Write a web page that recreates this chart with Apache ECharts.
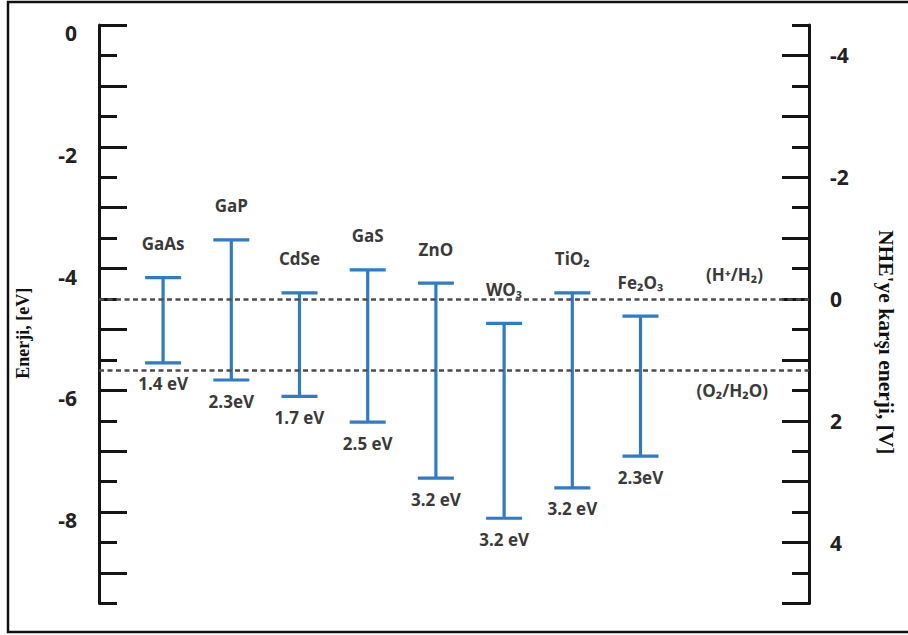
<!DOCTYPE html>
<html>
<head>
<meta charset="utf-8">
<script src="https://cdn.jsdelivr.net/npm/echarts@6/dist/echarts.min.js"></script>
<style>
  html, body { margin: 0; padding: 0; background: #ffffff; }
  #chart { width: 908px; height: 635px; }
</style>
</head>
<body>
<div id="chart"></div>
<script>
// Semiconductor band edges (energy vs. vacuum, eV)
const materials = ['GaAs', 'GaP', 'CdSe', 'GaS', 'ZnO', 'WO₃', 'TiO₂', 'Fe₂O₃'];
const conductionBand = [-4.15, -3.53, -4.40, -4.02, -4.24, -4.90, -4.40, -4.78];
const bandGap = [1.4, 2.3, 1.7, 2.5, 3.2, 3.2, 3.2, 2.3];
const gapUnit = [' eV', 'eV', ' eV', ' eV', ' eV', ' eV', ' eV', 'eV'];

// Water redox levels (eV) and their labels
const redoxLevels = [-4.5, -5.67];
const redoxLabels = ['(H⁺/H₂)', '(O₂/H₂O)'];

// Axis ranges and labelled ticks
const energyRange = [-9.5, 0];
const energyTicks = [0, -2, -4, -6, -8];
const nheTicks = [-4, -2, 0, 2, 4];
const NHE_OFFSET = 4.5; // E(NHE) = -(E(vacuum) + 4.5)

// ---- layout ----
const W = 908, H = 635;
const PLOT_TOP = 25, PLOT_BOTTOM = 603.5;
const AXIS_LEFT = 99, AXIS_RIGHT = 809;
const BAND_LEFT = 129, BAND_STEP = 68.2;
const pxPerUnit = (PLOT_BOTTOM - PLOT_TOP) / (energyRange[1] - energyRange[0]);

const nheRange = [-(energyRange[1] + NHE_OFFSET), -(energyRange[0] + NHE_OFFSET)];
// grids that carry the long (whole-number) ticks
const longLeftBottom = PLOT_BOTTOM - (Math.ceil(energyRange[0]) - energyRange[0]) * pxPerUnit;
const longRightTop = PLOT_TOP + (Math.ceil(nheRange[0]) - nheRange[0]) * pxPerUnit;

const INK = '#151515';
const BLUE = '#2f7bc6';
const TEXT = '#3a3a3a';
const near = (v, list) => list.some(t => Math.abs(t - v) < 1e-6);

const axisLineStyle = { show: true, onZero: false, lineStyle: { color: INK, width: 3 } };
const hiddenLine = { show: false, onZero: false };
const tickStyle = { color: INK, width: 3 };

const bandData = materials.map((m, i) => [i, conductionBand[i], +(conductionBand[i] - bandGap[i]).toFixed(3)]);

const option = {
  backgroundColor: '#ffffff',
  animation: false,
  grid: [
    { left: AXIS_LEFT, right: W - AXIS_RIGHT, top: PLOT_TOP, bottom: H - PLOT_BOTTOM },
    { left: AXIS_LEFT, right: W - AXIS_RIGHT, top: PLOT_TOP, bottom: H - longLeftBottom },
    { left: AXIS_LEFT, right: W - AXIS_RIGHT, top: longRightTop, bottom: H - PLOT_BOTTOM },
    { left: BAND_LEFT, width: BAND_STEP * materials.length, top: PLOT_TOP, bottom: H - PLOT_BOTTOM }
  ],
  xAxis: [
    { gridIndex: 0, type: 'category', data: ['a'], show: false, axisLine: hiddenLine },
    { gridIndex: 1, type: 'category', data: ['a'], show: false, axisLine: hiddenLine },
    { gridIndex: 2, type: 'category', data: ['a'], show: false, axisLine: hiddenLine },
    { gridIndex: 3, type: 'category', data: materials, show: false, boundaryGap: true, axisLine: hiddenLine }
  ],
  yAxis: [
    {
      gridIndex: 0, type: 'value', position: 'left',
      min: energyRange[0], max: energyRange[1], interval: 0.5,
      axisLine: axisLineStyle,
      axisTick: { show: true, inside: true, length: 18, lineStyle: tickStyle },
      splitLine: { show: false },
      axisLabel: {
        margin: 22, color: '#222', fontFamily: 'Open Sans', fontWeight: 'bold', fontSize: 21,
        verticalAlign: 'top', lineHeight: 16,
        formatter: v => near(v, energyTicks) ? String(Math.round(v)) : ''
      },
      name: 'Enerji, [eV]', nameLocation: 'middle', nameRotate: 90, nameGap: 67,
      nameTextStyle: { fontFamily: 'Liberation Serif', fontWeight: 'bold', fontSize: 18, color: '#111', padding: [0, 38, 0, 0] }
    },
    {
      gridIndex: 0, type: 'value', position: 'right', inverse: true,
      min: nheRange[0], max: nheRange[1], interval: 0.5,
      axisLine: axisLineStyle,
      axisTick: { show: true, inside: true, length: 17, lineStyle: tickStyle },
      splitLine: { show: false },
      axisLabel: {
        margin: 21, color: '#222', fontFamily: 'Open Sans', fontWeight: 'bold', fontSize: 21,
        formatter: v => near(v, nheTicks) ? String(Math.round(v)) : ''
      },
      name: "NHE'ye karşı enerji, [V]", nameLocation: 'middle', nameRotate: -90, nameGap: 66,
      nameTextStyle: { fontFamily: 'Liberation Serif', fontWeight: 'bold', fontSize: 21.5, color: '#111', padding: [0, 0, 0, 56] }
    },
    {
      gridIndex: 1, type: 'value', position: 'left',
      min: Math.ceil(energyRange[0]), max: energyRange[1], interval: 1,
      axisLine: hiddenLine,
      axisTick: { show: true, inside: true, length: 28, lineStyle: tickStyle },
      axisLabel: { show: false }, splitLine: { show: false }
    },
    {
      gridIndex: 2, type: 'value', position: 'right', inverse: true,
      min: Math.ceil(nheRange[0]), max: nheRange[1], interval: 1,
      axisLine: hiddenLine,
      axisTick: { show: true, inside: true, length: 27, lineStyle: tickStyle },
      axisLabel: { show: false }, splitLine: { show: false }
    },
    {
      gridIndex: 3, type: 'value', min: energyRange[0], max: energyRange[1], show: false,
      axisLine: hiddenLine
    }
  ],
  series: [
    {
      name: 'redox',
      type: 'line',
      xAxisIndex: 0, yAxisIndex: 0,
      data: [],
      silent: true,
      markLine: {
        silent: true,
        symbol: ['none', 'none'],
        lineStyle: { color: '#4d4d4d', width: 2.5, type: [5, 3.5] },
        data: redoxLevels.map((lv, i) => ({
          yAxis: lv,
          label: {
            show: true,
            formatter: redoxLabels[i],
            position: i === 0 ? 'insideEndTop' : 'insideEndBottom',
            distance: i === 0 ? [46, 16] : [41, 12],
            color: TEXT, fontFamily: 'Open Sans', fontWeight: 'bold', fontSize: 17
          }
        }))
      }
    },
    {
      name: 'bands',
      type: 'custom',
      xAxisIndex: 3, yAxisIndex: 4,
      data: bandData,
      renderItem: (params, api) => {
        const i = params.dataIndex;
        const top = api.coord([api.value(0), api.value(1)]);
        const bot = api.coord([api.value(0), api.value(2)]);
        const half = 18;
        const stroke = { stroke: BLUE, lineWidth: 3.2 };
        const font = { fontFamily: 'Open Sans', fontWeight: 'bold', fontSize: 17, fill: TEXT, align: 'center', verticalAlign: 'middle' };
        return {
          type: 'group',
          children: [
            { type: 'line', shape: { x1: top[0], y1: top[1], x2: bot[0], y2: bot[1] }, style: stroke },
            { type: 'line', shape: { x1: top[0] - half, y1: top[1], x2: top[0] + half, y2: top[1] }, style: stroke },
            { type: 'line', shape: { x1: bot[0] - half, y1: bot[1], x2: bot[0] + half, y2: bot[1] }, style: stroke },
            { type: 'text', x: top[0], y: top[1] - 34, style: Object.assign({ text: materials[i] }, font) },
            { type: 'text', x: bot[0], y: bot[1] + 21, style: Object.assign({ text: bandGap[i].toFixed(1) + gapUnit[i] }, font) }
          ]
        };
      }
    }
  ],
  graphic: [
    {
      type: 'rect', silent: true,
      shape: { x: 8, y: 2, width: W + 10, height: 630 },
      style: { fill: 'none', stroke: '#111', lineWidth: 2.5 }
    }
  ]
};

const chart = echarts.init(document.getElementById('chart'), null, { renderer: 'svg' });
chart.setOption(option);
</script>
</body>
</html>
